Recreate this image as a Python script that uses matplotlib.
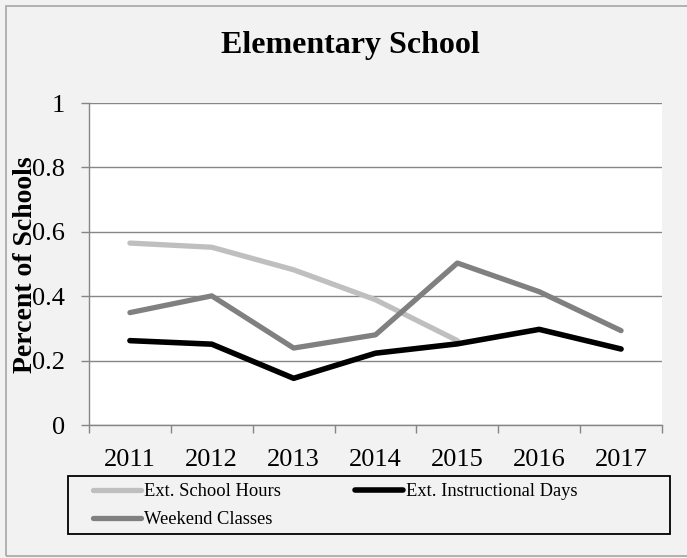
import numpy as np
import matplotlib
matplotlib.use('Agg')
from matplotlib import pyplot as plt
from matplotlib.patches import Rectangle
from matplotlib.lines import Line2D

plt.rcParams['font.family'] = ['Liberation Serif', 'DejaVu Serif']

years = ['2011', '2012', '2013', '2014', '2015', '2016', '2017']
school_hours = [0.565, 0.552, 0.482, 0.389, 0.262, np.nan, np.nan]
instr_days = [0.262, 0.251, 0.145, 0.223, 0.252, 0.297, 0.236]
weekend = [0.349, 0.401, 0.239, 0.280, 0.503, 0.414, 0.293]
yticks = [0, 0.2, 0.4, 0.6, 0.8, 1]
ytick_labels = ['0', '0.2', '0.4', '0.6', '0.8', '1']

W, H = 687, 558
fig = plt.figure(figsize=(W / 100, H / 100), dpi=100, facecolor='#f2f2f2')

# outer chart border
fig.patches.append(Rectangle((6 / W, 1 - 556 / H), 690 / W, 550 / H, transform=fig.transFigure,
                             facecolor='none', edgecolor='#a6a6a6', lw=1.2))

ax = fig.add_axes([89 / W, 1 - 425 / H, (662 - 89) / W, (425 - 103) / H])
ax.set_facecolor('white')

x = np.arange(len(years))
ax.plot(x, school_hours, color='#bfbfbf', lw=3.8, solid_capstyle='round', solid_joinstyle='round')
ax.plot(x, instr_days, color='black', lw=4.0, solid_capstyle='round', solid_joinstyle='round')
ax.plot(x, weekend, color='#808080', lw=3.8, solid_capstyle='round', solid_joinstyle='round')

ax.set_xlim(-0.5, len(years) - 0.5)
ax.set_ylim(0, 1)
ax.set_yticks(yticks)
ax.set_yticklabels(ytick_labels)
ax.set_xticks(x)
ax.set_xticklabels(years)
ax.set_xticks(np.arange(-0.5, len(years)), minor=True)
ax.tick_params(axis='x', which='major', length=0, pad=17, labelsize=19)
ax.tick_params(axis='x', which='minor', length=6, width=1, color='#868686', direction='out')
ax.tick_params(axis='y', length=6, width=1, color='#868686', pad=11.5, labelsize=19)

ax.grid(axis='y', color='#868686', lw=1)
ax.set_axisbelow(True)
for s in ['top', 'right']:
    ax.spines[s].set_visible(False)
for s in ['left', 'bottom']:
    ax.spines[s].set_color('#868686')
    ax.spines[s].set_linewidth(1)

fig.text(350 / W, 1 - 45 / H, 'Elementary School', ha='center', va='center',
         fontsize=23, fontweight='bold')
fig.text(26 / W, 1 - 265 / H, 'Percent of Schools', ha='center', va='center',
         rotation=90, fontsize=20, fontweight='bold')

# legend, row-major order: hours, days / weekend
handles = [Line2D([], [], color='#bfbfbf', lw=3.8, solid_capstyle='round'),
           Line2D([], [], color='#808080', lw=3.8, solid_capstyle='round'),
           Line2D([], [], color='black', lw=4.0, solid_capstyle='round')]
labels = ['Ext. School Hours', 'Weekend Classes', 'Ext. Instructional Days']
fig.legend(handles, labels, ncol=2, loc='upper left', bbox_to_anchor=(93 / W, 1 - 483 / H),
           frameon=False, borderpad=0, borderaxespad=0, fontsize=13.3, handlelength=2.6,
           handletextpad=0.16, columnspacing=4.0, labelspacing=0.6)
fig.patches.append(Rectangle((68 / W, 1 - 534 / H), (670 - 68) / W, (534 - 476) / H,
                             transform=fig.transFigure, facecolor='none', edgecolor='black', lw=1.3))

fig.savefig('out.png', dpi=100, facecolor=fig.get_facecolor())
